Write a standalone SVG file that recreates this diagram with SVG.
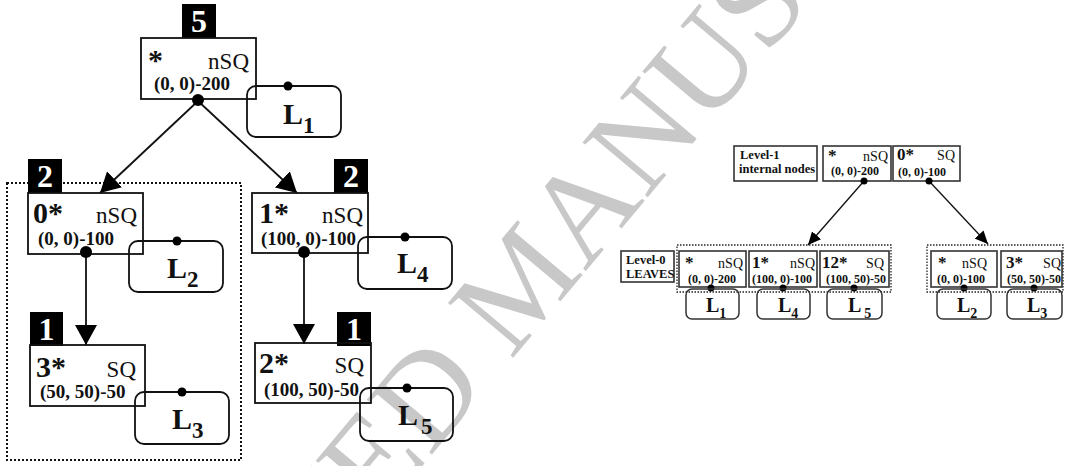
<svg xmlns="http://www.w3.org/2000/svg" width="1065" height="466" viewBox="0 0 1065 466">
<style>
text{font-family:"Liberation Serif","Times New Roman",serif;fill:#111}
.wm{fill:#c8c8c8;font-size:130px}
.box{fill:none;stroke:#111;stroke-width:1.8}
.lbox{fill:none;stroke:#111;stroke-width:1.8}
.badge{fill:#000}
.bn{fill:#fff;font-weight:bold;font-size:32px;text-anchor:middle}
.big{font-weight:bold;font-size:30px}
.sq{font-size:23px;text-anchor:end}
.co{font-weight:bold;font-size:19px}
.L{font-weight:bold;font-size:30px}
.Ls{font-size:23px}
.dot{fill:#000}
.edge{fill:none;stroke:#111;stroke-width:1.8}
.dotted{fill:none;stroke:#111;stroke-width:2;stroke-dasharray:2 2}
.rbox{fill:none;stroke:#333;stroke-width:1.6}
.rlbox{fill:none;stroke:#333;stroke-width:1.5}
.rdotted{fill:none;stroke:#222;stroke-width:1.3;stroke-dasharray:1.5 1.5}
.rt{font-weight:bold;font-size:12.5px}
.rbig{font-weight:bold;font-size:17px}
.rsq{font-size:14px;text-anchor:end}
.rco{font-weight:bold;font-size:12px}
.rL{font-weight:bold;font-size:20px}
.rLs{font-size:14px}
.redge{fill:none;stroke:#111;stroke-width:1.3}
</style>
<defs>
<marker id="ah" markerUnits="userSpaceOnUse" viewBox="0 0 20 22" refX="20" refY="11" markerWidth="20" markerHeight="22" orient="auto"><path d="M0,0 L20,11 L0,22 z" fill="#000"/></marker>
<marker id="ahs" markerUnits="userSpaceOnUse" viewBox="0 0 13 12" refX="13" refY="6" markerWidth="13" markerHeight="12" orient="auto"><path d="M0,0 L13,6 L0,12 z" fill="#000"/></marker>
</defs>

<text class="wm" transform="translate(58,900) rotate(-50)">ACCEPTED MANUSCRIPT</text>

<rect class="dotted" x="7" y="183" width="234" height="277"/>

<g id="connectors">
<line class="edge" x1="198" y1="101" x2="100" y2="193" marker-end="url(#ah)"/>
<line class="edge" x1="198" y1="101" x2="297" y2="193" marker-end="url(#ah)"/>
<line class="edge" x1="86" y1="252" x2="86" y2="345" marker-end="url(#ah)"/>
<line class="edge" x1="304" y1="252" x2="304" y2="344" marker-end="url(#ah)"/>
<line class="redge" x1="864" y1="181" x2="808" y2="245" marker-end="url(#ahs)"/>
<line class="redge" x1="929" y1="181" x2="988" y2="244" marker-end="url(#ahs)"/>
</g>

<g id="root">
<rect class="badge" x="182" y="4" width="34" height="34"/><text class="bn" x="199" y="32">5</text>
<rect class="box" x="141" y="38" width="115" height="61"/>
<text class="big" x="148" y="70">*</text><text class="sq" x="249" y="69">nSQ</text>
<text class="co" x="154" y="90">(0, 0)-200</text>
<circle class="dot" cx="198" cy="100" r="6"/>
</g>
<g id="L1">
<rect class="lbox" x="247" y="86" width="94" height="51" rx="9"/>
<circle class="dot" cx="288" cy="86" r="4.5"/>
<text class="L" x="283" y="124">L<tspan class="Ls" dy="9">1</tspan></text>
</g>

<g id="n0">
<rect class="badge" x="28" y="159" width="34" height="34"/><text class="bn" x="45" y="187">2</text>
<rect class="box" x="28" y="193" width="115" height="61"/>
<text class="big" x="33" y="223">0*</text><text class="sq" x="137" y="223">nSQ</text>
<text class="co" x="38" y="245">(0, 0)-100</text>
<circle class="dot" cx="86" cy="252" r="6"/>
</g>
<g id="L2">
<rect class="lbox" x="129" y="241" width="94" height="51" rx="9"/>
<circle class="dot" cx="177" cy="241" r="4.5"/>
<text class="L" x="167" y="278">L<tspan class="Ls" dy="9">2</tspan></text>
</g>

<g id="n3">
<rect class="badge" x="30" y="312" width="33" height="34"/><text class="bn" x="46.5" y="340">1</text>
<rect class="box" x="30" y="345" width="115" height="61"/>
<text class="big" x="36" y="377">3*</text><text class="sq" x="136" y="377">SQ</text>
<text class="co" x="40" y="398">(50, 50)-50</text>
</g>
<g id="L3">
<rect class="lbox" x="135" y="392" width="94" height="52" rx="9"/>
<circle class="dot" cx="182" cy="392" r="4.5"/>
<text class="L" x="172" y="429">L<tspan class="Ls" dy="9">3</tspan></text>
</g>

<g id="n1">
<rect class="badge" x="334" y="159" width="34" height="34"/><text class="bn" x="351" y="187">2</text>
<rect class="box" x="252" y="193" width="116" height="60"/>
<text class="big" x="259" y="223">1*</text><text class="sq" x="363" y="223">nSQ</text>
<text class="co" x="261" y="245">(100, 0)-100</text>
<circle class="dot" cx="304" cy="252" r="6"/>
</g>
<g id="L4">
<rect class="lbox" x="358" y="237" width="94" height="52" rx="9"/>
<circle class="dot" cx="405" cy="237" r="4.5"/>
<text class="L" x="397" y="273">L<tspan class="Ls" dy="9">4</tspan></text>
</g>

<g id="n2">
<rect class="badge" x="337" y="312" width="34" height="34"/><text class="bn" x="354" y="340">1</text>
<rect class="box" x="255" y="343" width="116" height="60"/>
<text class="big" x="259" y="373">2*</text><text class="sq" x="364" y="373">SQ</text>
<text class="co" x="264" y="396">(100, 50)-50</text>
</g>
<g id="L5">
<rect class="lbox" x="360" y="388" width="93" height="53" rx="9"/>
<circle class="dot" cx="407" cy="388" r="4.5"/>
<text class="L" x="398" y="425">L<tspan class="Ls" dx="3" dy="9">5</tspan></text>
</g>

<!-- right diagram -->
<g id="level1-label">
<rect class="rbox" x="734" y="146" width="83" height="35"/>
<text class="rt" x="740" y="159">Level-1</text>
<text class="rt" x="739" y="173">internal nodes</text>
</g>
<g id="r-root">
<rect class="rbox" x="823" y="146" width="68" height="35"/>
<text class="rbig" x="828" y="161">*</text><text class="rsq" x="888" y="161">nSQ</text>
<text class="rco" x="831" y="175">(0, 0)-200</text>
<circle class="dot" cx="864" cy="181" r="3.5"/>
</g>
<g id="r-n0">
<rect class="rbox" x="893" y="146" width="67" height="35"/>
<text class="rbig" x="897" y="160">0*</text><text class="rsq" x="955" y="160">SQ</text>
<text class="rco" x="898" y="176">(0, 0)-100</text>
<circle class="dot" cx="929" cy="181" r="3.5"/>
</g>

<g id="level0-label">
<rect class="rbox" x="621" y="251" width="53" height="31"/>
<text class="rt" x="626" y="264">Level-0</text>
<text class="rt" x="626" y="278">LEAVES</text>
</g>
<rect class="rdotted" x="677" y="245" width="214" height="47"/>
<rect class="rdotted" x="927" y="245" width="136" height="47"/>

<g id="r-leaf1">
<rect class="rbox" x="679" y="251" width="67" height="36"/>
<text class="rbig" x="685" y="268">*</text><text class="rsq" x="743" y="268">nSQ</text>
<text class="rco" x="688" y="283">(0, 0)-200</text>
<circle class="dot" cx="711" cy="288" r="3.5"/>
<rect class="rlbox" x="686" y="289" width="53" height="30" rx="6"/>
<text class="rL" x="706" y="312">L<tspan class="rLs" dy="6">1</tspan></text>
</g>
<g id="r-leaf4">
<rect class="rbox" x="749" y="251" width="68" height="36"/>
<text class="rbig" x="752" y="268">1*</text><text class="rsq" x="815" y="268">nSQ</text>
<text class="rco" x="752" y="283">(100, 0)-100</text>
<circle class="dot" cx="783" cy="288" r="3.5"/>
<rect class="rlbox" x="757" y="289" width="53" height="30" rx="6"/>
<text class="rL" x="778" y="312">L<tspan class="rLs" dy="6">4</tspan></text>
</g>
<g id="r-leaf5">
<rect class="rbox" x="820" y="251" width="69" height="36"/>
<text class="rbig" x="822" y="268">12*</text><text class="rsq" x="884" y="268">SQ</text>
<text class="rco" x="826" y="283">(100, 50)-50</text>
<circle class="dot" cx="854" cy="288" r="3.5"/>
<rect class="rlbox" x="827" y="289" width="55" height="30" rx="6"/>
<text class="rL" x="848" y="312">L<tspan class="rLs" dx="3" dy="6">5</tspan></text>
</g>
<g id="r-leaf2">
<rect class="rbox" x="931" y="251" width="66" height="36"/>
<text class="rbig" x="938" y="268">*</text><text class="rsq" x="987" y="268">nSQ</text>
<text class="rco" x="937" y="283">(0, 0)-100</text>
<circle class="dot" cx="964" cy="288" r="3.5"/>
<rect class="rlbox" x="937" y="289" width="54" height="30" rx="6"/>
<text class="rL" x="957" y="312">L<tspan class="rLs" dy="6">2</tspan></text>
</g>
<g id="r-leaf3">
<rect class="rbox" x="1001" y="251" width="61" height="36"/>
<text class="rbig" x="1006" y="268">3*</text><text class="rsq" x="1061" y="268">SQ</text>
<text class="rco" x="1007" y="283">(50, 50)-50</text>
<circle class="dot" cx="1034" cy="288" r="3.5"/>
<rect class="rlbox" x="1007" y="289" width="55" height="30" rx="6"/>
<text class="rL" x="1027" y="312">L<tspan class="rLs" dy="6">3</tspan></text>
</g>
</svg>
